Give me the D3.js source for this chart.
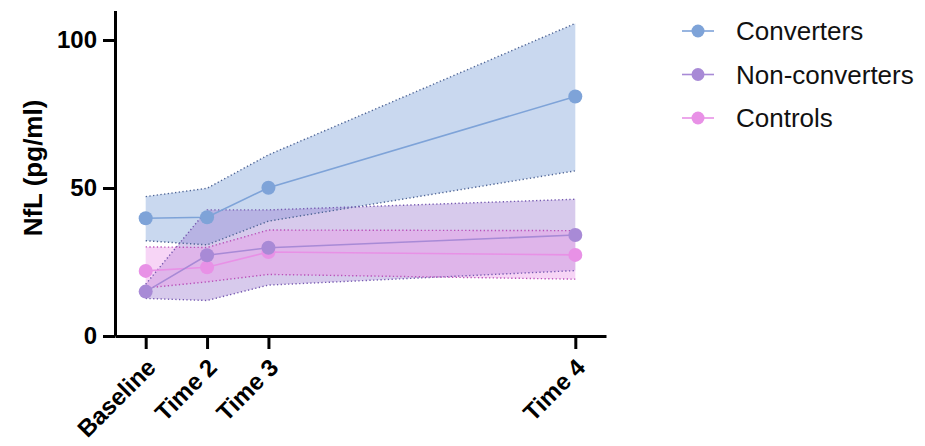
<!DOCTYPE html>
<html>
<head>
<meta charset="utf-8">
<script src="https://cdn.jsdelivr.net/npm/d3@7"></script>
<style>
  html, body { margin: 0; padding: 0; background: #fff; }
  svg { display: block; font-family: Arial, "Liberation Sans", sans-serif; }
</style>
</head>
<body>
<svg id="chart" width="925" height="446"></svg>
<script>
// Visit timing (x position) and labels
const timeLabels = ["Baseline", "Time 2", "Time 3", "Time 4"];
const timePoints = [0, 1, 2, 7];
const yTicks = [0, 50, 100];

// NfL (pg/ml): group means with upper / lower band limits
const convertersMean  = [39.8, 40.1, 50.1, 80.9];
const convertersUpper = [47.1, 49.9, 61.2, 105.6];
const convertersLower = [32.2, 30.8, 38.8, 55.8];

const nonConvertersMean  = [15.0, 27.3, 29.8, 34.1];
const nonConvertersUpper = [17.5, 42.6, 42.6, 46.2];
const nonConvertersLower = [12.7, 12.0, 17.2, 22.1];

const controlsMean  = [22.0, 23.2, 28.4, 27.4];
const controlsUpper = [30.1, 29.9, 35.8, 35.6];
const controlsLower = [16.2, 18.3, 20.8, 19.2];

const groupNames = ["Converters", "Non-converters", "Controls"];

const groups = [
  { name: groupNames[0], mean: convertersMean, upper: convertersUpper, lower: convertersLower,
    color: "#7ea3d8", fill: "rgba(126,163,216,0.42)", edge: "#4f6596" },
  { name: groupNames[1], mean: nonConvertersMean, upper: nonConvertersUpper, lower: nonConvertersLower,
    color: "#a88ad6", fill: "rgba(160,128,210,0.42)", edge: "#7559b0" },
  { name: groupNames[2], mean: controlsMean, upper: controlsUpper, lower: controlsLower,
    color: "#e891e6", fill: "rgba(236,150,232,0.40)", edge: "#b94fb8" }
];

const svg = d3.select("#chart");

const x = d3.scaleLinear().domain([-0.5, 7.5]).range([115, 606]);
const y = d3.scaleLinear().domain([0, 110]).range([336, 10.4]);

// Shaded bands
const area = d3.area()
  .x((d, i) => x(timePoints[i]))
  .y0(d => y(d[0]))
  .y1(d => y(d[1]));

const edgeLine = d3.line()
  .x((d, i) => x(timePoints[i]))
  .y(d => y(d));

groups.forEach(g => {
  const band = g.lower.map((lo, i) => [lo, g.upper[i]]);
  svg.append("path")
    .attr("d", area(band))
    .attr("fill", g.fill)
    .attr("stroke", "none");
});

groups.forEach(g => {
  [g.upper, g.lower].forEach(edge => {
    svg.append("path")
      .attr("d", edgeLine(edge))
      .attr("fill", "none")
      .attr("stroke", g.edge)
      .attr("stroke-width", 1.4)
      .attr("stroke-dasharray", "1.3,2.4");
  });
});

// Mean lines and markers (controls drawn first so the others sit above)
const drawOrder = [groups[2], groups[1], groups[0]];
drawOrder.forEach(g => {
  svg.append("path")
    .attr("d", edgeLine(g.mean))
    .attr("fill", "none")
    .attr("stroke", g.color)
    .attr("stroke-width", 1.6);
});
drawOrder.forEach(g => {
  svg.append("g")
    .selectAll("circle")
    .data(g.mean)
    .join("circle")
    .attr("cx", (d, i) => x(timePoints[i]))
    .attr("cy", d => y(d))
    .attr("r", 7)
    .attr("fill", g.color);
});

// Axes
const labelFont = "Arial, 'Liberation Sans', sans-serif";

const yAxis = svg.append("g")
  .attr("transform", `translate(${x.range()[0]},0)`)
  .call(d3.axisLeft(y).tickValues(yTicks).tickSize(12).tickSizeOuter(0).tickPadding(6).tickFormat(d3.format("d")));
yAxis.select(".domain").attr("stroke", "#000").attr("stroke-width", 3);
yAxis.selectAll(".tick line").attr("stroke", "#000").attr("stroke-width", 3);
yAxis.selectAll(".tick text")
  .attr("fill", "#000")
  .style("font-size", "24px")
  .style("font-weight", "bold")
  .style("font-family", labelFont);

const xAxis = svg.append("g")
  .attr("transform", `translate(0,${y(0)})`)
  .call(d3.axisBottom(x).tickValues(timePoints).tickSize(13).tickSizeOuter(0).tickFormat((d, i) => timeLabels[i]));
xAxis.select(".domain").attr("stroke", "#000").attr("stroke-width", 3);
xAxis.selectAll(".tick line").attr("stroke", "#000").attr("stroke-width", 3);
xAxis.selectAll(".tick text")
  .attr("fill", "#000")
  .attr("text-anchor", "end")
  .attr("dy", null)
  .attr("y", null)
  .attr("transform", "translate(11,33) rotate(-45)")
  .style("font-size", "24px")
  .style("font-weight", "bold")
  .style("font-family", labelFont);

// Y axis title
svg.append("text")
  .attr("transform", "translate(42,168) rotate(-90)")
  .attr("text-anchor", "middle")
  .style("font-size", "26px")
  .style("font-weight", "bold")
  .text("NfL (pg/ml)");

// Legend
const legend = svg.append("g");
groups.forEach((g, i) => {
  const cy = 31 + i * 43.5;
  legend.append("line")
    .attr("x1", 682).attr("x2", 714)
    .attr("y1", cy).attr("y2", cy)
    .attr("stroke", g.color)
    .attr("stroke-width", 1.6);
  legend.append("circle")
    .attr("cx", 698).attr("cy", cy).attr("r", 6.5)
    .attr("fill", g.color);
  legend.append("text")
    .attr("x", 736).attr("y", cy)
    .attr("dy", "0.35em")
    .style("font-size", "26px")
    .attr("fill", "#111")
    .text(g.name);
});
</script>
</body>
</html>
